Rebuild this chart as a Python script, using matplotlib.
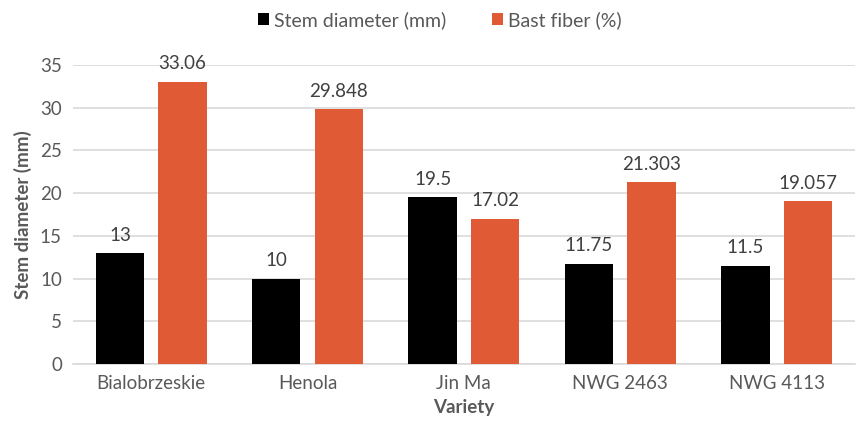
import matplotlib.pyplot as plt
import numpy as np

plt.rcParams['font.family'] = ['Lato', 'DejaVu Sans']

varieties = ['Bialobrzeskie', 'Henola', 'Jin Ma', 'NWG 2463', 'NWG 4113']
stem_diameter = [13, 10, 19.5, 11.75, 11.5]
bast_fiber = [33.06, 29.848, 17.02, 21.303, 19.057]
stem_labels = ['13', '10', '19.5', '11.75', '11.5']
bast_labels = ['33.06', '29.848', '17.02', '21.303', '19.057']

txt = '#595959'
grid = '#d9d9d9'

fig = plt.figure(figsize=(8.59, 4.25), dpi=100)
ax = fig.add_axes([0.085, 0.1435, 0.91, 0.7035])

x = np.arange(len(varieties))
w = 0.31
b1 = ax.bar(x - 0.2, stem_diameter, w, color='black', label='Stem diameter (mm)', zorder=3)
b2 = ax.bar(x + 0.2, bast_fiber, w, color='#e05a35', label='Bast fiber (%)', zorder=3)

for rect, lab in zip(b1, stem_labels):
    ax.text(rect.get_x() + rect.get_width() / 2, rect.get_height() + 1.1, lab,
            ha='center', va='bottom', fontsize=13.5, color='#404040')
for rect, lab in zip(b2, bast_labels):
    ax.text(rect.get_x() + rect.get_width() / 2, rect.get_height() + 1.1, lab,
            ha='center', va='bottom', fontsize=13.5, color='#404040')

ax.set_xlim(-0.5, 4.5)
ax.set_ylim(0, 35)
ax.set_yticks(range(0, 36, 5))
ax.set_xticks(x)
ax.set_xticklabels(varieties)
ax.tick_params(axis='both', length=0, labelsize=13.5, colors=txt, pad=8)
ax.yaxis.grid(True, color=grid, linewidth=1.2, zorder=0)
for s in ['top', 'right', 'left']:
    ax.spines[s].set_visible(False)
ax.spines['bottom'].set_color(grid)
ax.spines['bottom'].set_linewidth(1.2)

ax.set_ylabel('Stem diameter (mm)', fontsize=13.5, fontweight='bold', color=txt, labelpad=6)
ax.set_xlabel('Variety', fontsize=13.5, fontweight='bold', color=txt, labelpad=5)

fig.legend(handles=[b1, b2], loc='center', bbox_to_anchor=(0.512, 0.953), ncol=2,
           frameon=False, fontsize=14, handlelength=0.55, handleheight=0.55,
           columnspacing=2.4, handletextpad=0.25, labelcolor=txt)

fig.savefig('out.png', dpi=100)
